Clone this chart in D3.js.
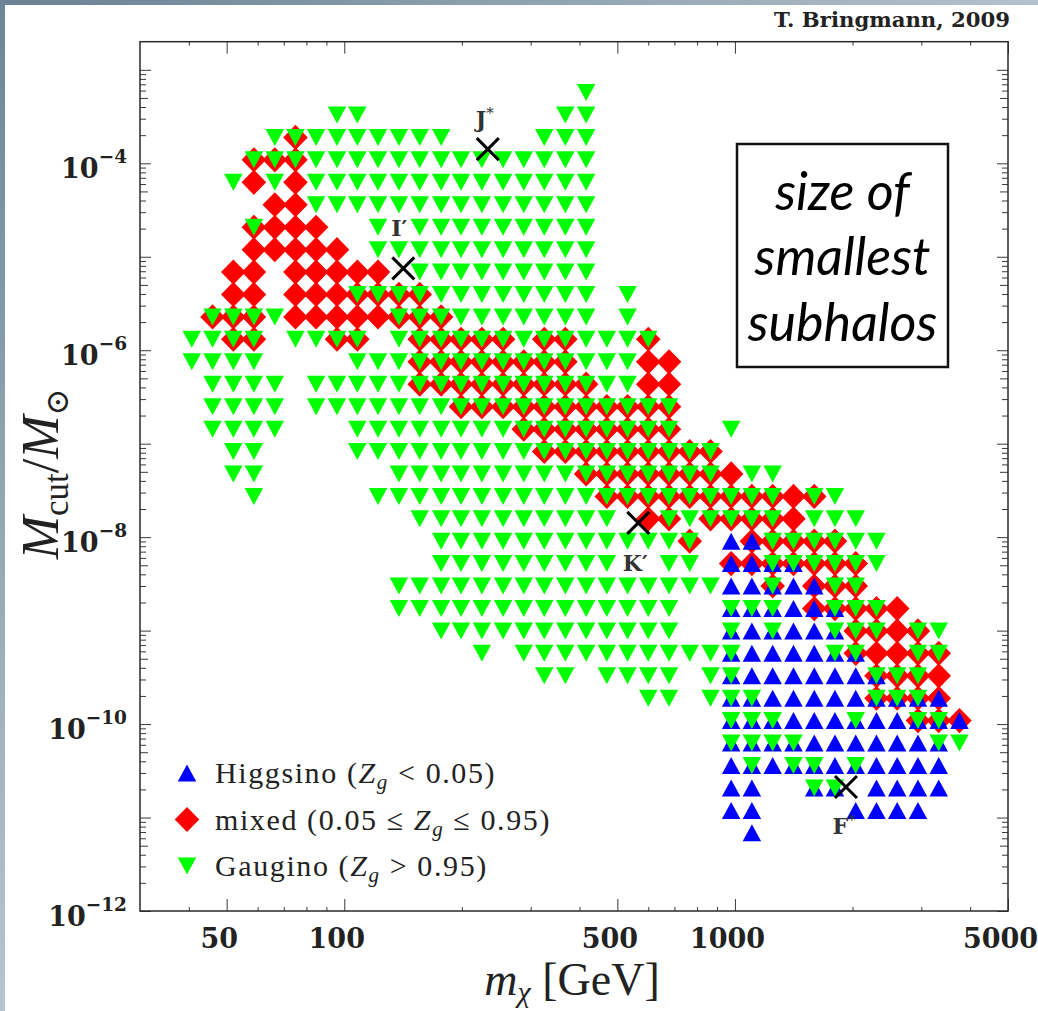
<!DOCTYPE html>
<html>
<head>
<meta charset="utf-8">
<script src="https://cdn.jsdelivr.net/npm/d3@7"></script>
<style>
  body { margin: 0; background: #fff; }
  svg { display: block; }
</style>
</head>
<body>
<svg id="chart" width="1038" height="1011"></svg>
<script>
// Neutralino mass of each scan column (GeV)
const massBins = [40.7, 46.0, 52.0, 58.7, 66.4, 75.0, 84.7, 95.8, 108, 122,
                  138, 156, 177, 199, 225, 255, 288, 325, 368, 416,
                  470, 531, 600, 678, 766, 866, 978, 1105, 1249, 1412,
                  1596, 1803, 2038, 2303, 2602, 2941, 3324, 3756];

// Cutoff mass of each scan row, top to bottom (solar masses)
const mcutBins = [5.71e-4, 3.28e-4, 1.89e-4, 1.09e-4, 6.26e-5, 3.60e-5, 2.07e-5, 1.19e-5,
                  6.86e-6, 3.95e-6, 2.27e-6, 1.31e-6, 7.52e-7, 4.33e-7, 2.49e-7, 1.43e-7,
                  8.25e-8, 4.75e-8, 2.73e-8, 1.57e-8, 9.05e-9, 5.21e-9, 3.00e-9, 1.72e-9,
                  9.92e-10, 5.71e-10, 3.28e-10, 1.89e-10, 1.09e-10, 6.26e-11, 3.60e-11,
                  2.07e-11, 1.19e-11, 6.86e-12];

// Occupied cells per class: one string per row, '#' = model present in that mass column
const gauginoGrid = [
  ".......... .........# .......... ........",
  ".......##. ........## .......... ........",
  "....###### ###....### .......... ........",
  "...####### ########## .......... ........",
  "..#.#.#### ########## .......... ........",
  "......#### ########## .......... ........",
  "...#.....# .######### .......... ........",
  ".........# ########## .......... ........",
  ".......... .######### .......... ........",
  "........## ########## .#........ ........",
  ".####..... ########## .#........ ........",
  "####.####. ########## ###....... ........",
  "####....## ########## ##........ ........",
  ".####.#### ########## ##........ ........",
  ".####.#### ########## ####...... ........",
  ".####...## ########## ####..#... ........",
  "..##....## ########## ######.... ........",
  "..##...... ########## ######.##. ........",
  "...#.....# ########## #########. ##......",
  ".......... .######### #..######. ###.....",
  ".......... ..######## #####...## ####....",
  ".......... ..######## #..##...## ####....",
  ".......... ########## ######..#. .##.....",
  ".......... ########## ####..###. .###....",
  ".......... ..######## ####..#.#. .###.##.",
  ".......... ....#.#### #######... .##..##.",
  ".......... .......##. ####.##... ...###..",
  ".......... .......... ..##.###.. ...###..",
  ".......... .......... ......###. ..#..##.",
  ".......... .......... ......#### ......##",
  ".......... .......... .......#.# #.#.....",
  ".......... .......... .......... ##......",
  "",
  ""
];

const mixedGrid = [
  "",
  "",
  ".....#.... .......... .......... ........",
  "...###.... .......... .......... ........",
  "...#.#.... .......... .......... ........",
  "....##.... .......... .......... ........",
  "...####... .......... .......... ........",
  "...#####.. .......... .......... ........",
  "..##.##### .......... .......... ........",
  "..##.##### ##........ .......... ........",
  ".###.##### ###....... .......... ........",
  "..##...##. .#####.##. ..#....... ........",
  ".......... .########. ..##...... ........",
  ".......... .######### ..##...... ........",
  ".......... ...####### ####...... ........",
  ".......... ......#### ####...... ........",
  ".......... .......### ######.... ........",
  ".......... .........# #######... ........",
  ".......... .......... ########## #.......",
  ".......... .......... ..##.##### ........",
  ".......... .......... ....#..### ##......",
  ".......... .......... ......#### ###.....",
  ".......... .......... ........#. ###.....",
  ".......... .......... .......... #####...",
  ".......... .......... .......... ..####..",
  ".......... .......... .......... ..#####.",
  ".......... .......... .......... ...####.",
  ".......... .......... .......... ...####.",
  ".......... .......... .......... .....###",
  "", "", "", "", ""
];

const higgsinoGrid = [
  "", "", "", "", "", "", "", "", "", "", "", "", "", "", "", "", "", "", "", "",
  ".......... .......... ......##.. ........",
  ".......... .......... ......#### ........",
  ".......... .......... ......#### #.......",
  ".......... .......... ......#### ##......",
  ".......... .......... ......#### ##......",
  ".......... .......... ......#### ###.....",
  ".......... .......... ......#### ####....",
  ".......... .......... ......#### #######.",
  ".......... .......... ......#### ########",
  ".......... .......... ......#### #######.",
  ".......... .......... ......#### #######.",
  ".......... .......... ......##.. ##.####.",
  ".......... .......... ......##.. ..####..",
  ".......... .......... .......#.. ........"
];

// Benchmark models marked with a cross
const benchNames = ["J*", "I′", "K′", "F*"];
const benchMass = [233, 141.6, 565.6, 1924];
const benchMcut = [1.42e-4, 7.52e-6, 1.42e-8, 2.12e-11];

// Axis ticks
const xMajor = [50, 100, 500, 1000, 5000];
const xMinor = [40, 60, 70, 80, 90, 200, 300, 400, 600, 700, 800, 900, 2000, 3000, 4000];
const yLabelExp = [-12, -10, -8, -6, -4];
const yDecadeExp = [-12, -11, -10, -9, -8, -7, -6, -5, -4, -3];

// ---------------------------------------------------------------------------
const W = 1038, H = 1011;
const plot = { left: 140, right: 1008, top: 41.7, bottom: 911 };
const serifBold = "'DejaVu Serif', serif";
const serif = "'Liberation Serif', 'Times New Roman', serif";
const tickColor = "#3a3a3a";

const x = d3.scaleLog().domain([30, 5000]).range([plot.left, plot.right]);
const y = d3.scaleLog().domain([1e-12, 2e-3]).range([plot.bottom, plot.top]);

const svg = d3.select("#chart");
svg.append("rect").attr("width", W).attr("height", H).attr("fill", "#fff");

// window edge strips
const defs = svg.append("defs");
const gTop = defs.append("linearGradient").attr("id", "edgeTop");
gTop.append("stop").attr("offset", 0).attr("stop-color", "#6a8293");
gTop.append("stop").attr("offset", 1).attr("stop-color", "#b3c2cc");
const gLeft = defs.append("linearGradient").attr("id", "edgeLeft")
  .attr("x1", 0).attr("y1", 0).attr("x2", 0).attr("y2", 1);
gLeft.append("stop").attr("offset", 0).attr("stop-color", "#6e8697");
gLeft.append("stop").attr("offset", 1).attr("stop-color", "#b7c5cf");
svg.append("rect").attr("x", 0).attr("y", 0).attr("width", W).attr("height", 5).attr("fill", "url(#edgeTop)");
svg.append("rect").attr("x", 0).attr("y", 0).attr("width", 5).attr("height", H).attr("fill", "url(#edgeLeft)");

// ---- marker geometry ----
const triDown = (w, h) => `M${-w / 2},${-h / 2}L${w / 2},${-h / 2}L0,${h / 2}Z`;
const triUp = (w, h) => `M${-w / 2},${h / 2}L${w / 2},${h / 2}L0,${-h / 2}Z`;
const diamond = (w, h) => `M0,${-h / 2}L${w / 2},0L0,${h / 2}L${-w / 2},0Z`;

function cells(grid) {
  const pts = [];
  grid.forEach((row, r) => {
    row.replace(/ /g, "").split("").forEach((ch, c) => {
      if (ch === "#") pts.push({ m: massBins[c], mcut: mcutBins[r] });
    });
  });
  return pts;
}

const series = [
  { key: "mixed", pts: cells(mixedGrid), shape: diamond(24.6, 25.2), color: "#ff0000" },
  { key: "higgsino", pts: cells(higgsinoGrid), shape: triUp(18.5, 17), color: "#0000ff" },
  { key: "gaugino", pts: cells(gauginoGrid), shape: triDown(18.5, 17), color: "#00ff00" }
];

const marks = svg.append("g").attr("class", "marks");
series.forEach(s => {
  marks.append("g").attr("class", s.key)
    .selectAll("path").data(s.pts).join("path")
    .attr("d", s.shape)
    .attr("transform", d => `translate(${x(d.m)},${y(d.mcut)})`)
    .attr("fill", s.color);
});

// ---- benchmark crosses and labels ----
const benchLabelOffset = { "J*": [-3, -22], "I′": [-4, -32], "K′": [-3, 48], "F*": [-2, 47] };
const bench = benchNames.map((n, i) => ({ name: n, m: benchMass[i], mcut: benchMcut[i] }));
const bg = svg.append("g").attr("class", "bench");
const cs = 11;
bench.forEach(b => {
  const cx = x(b.m), cy = y(b.mcut);
  bg.append("path")
    .attr("d", `M${cx - cs},${cy - cs}L${cx + cs},${cy + cs}M${cx - cs},${cy + cs}L${cx + cs},${cy - cs}`)
    .attr("stroke", "#000").attr("stroke-width", 3).attr("fill", "none");
  const off = benchLabelOffset[b.name];
  const t = bg.append("text")
    .attr("x", cx + off[0]).attr("y", cy + off[1])
    .attr("text-anchor", "middle")
    .attr("font-family", serifBold).attr("font-weight", "bold")
    .attr("font-size", 22).attr("fill", "#333");
  t.append("tspan").text(b.name[0]);
  if (b.name[1] === "*") {
    t.append("tspan").attr("font-size", 15).attr("dy", -9).attr("font-weight", "normal").text("*");
  } else {
    t.append("tspan").text(b.name.slice(1));
  }
});

// ---- frame and ticks ----
function tickSet(axisFn, scale, values, len, transform) {
  const g = svg.append("g").attr("transform", transform)
    .call(axisFn(scale).tickValues(values).tickSize(-len).tickFormat(""));
  g.select(".domain").remove();
  g.selectAll("line").attr("stroke", tickColor).attr("stroke-width", 1);
  return g;
}

const yMajorVals = yDecadeExp.map(e => Math.pow(10, e));
const yMinor5 = yDecadeExp.map(e => 5 * Math.pow(10, e)).filter(v => v < 2e-3);
const yMinorOther = [];
yDecadeExp.forEach(e => [2, 3, 4, 6, 7, 8, 9].forEach(k => {
  const v = k * Math.pow(10, e);
  if (v < 1.99e-3) yMinorOther.push(v);
}));

// bottom / top
tickSet(d3.axisBottom, x, xMajor, 12, `translate(0,${plot.bottom})`);
tickSet(d3.axisBottom, x, xMinor, 4, `translate(0,${plot.bottom})`);
tickSet(d3.axisTop, x, xMajor, 12, `translate(0,${plot.top})`);
tickSet(d3.axisTop, x, xMinor, 4, `translate(0,${plot.top})`);
// left / right
[[d3.axisLeft, plot.left], [d3.axisRight, plot.right]].forEach(([fn, px]) => {
  tickSet(fn, y, yMajorVals, 11, `translate(${px},0)`);
  tickSet(fn, y, yMinor5, 8, `translate(${px},0)`);
  tickSet(fn, y, yMinorOther, 6, `translate(${px},0)`);
});

svg.append("rect")
  .attr("x", plot.left).attr("y", plot.top)
  .attr("width", plot.right - plot.left).attr("height", plot.bottom - plot.top)
  .attr("fill", "none").attr("stroke", "#2a2a2a").attr("stroke-width", 1.5);

// x tick labels
const xl = svg.append("g").attr("transform", `translate(0,${plot.bottom})`)
  .call(d3.axisBottom(x).tickValues(xMajor).tickSize(0).tickPadding(18).tickFormat(d3.format("d")));
xl.select(".domain").remove();
xl.selectAll("text")
  .attr("dx", -8)
  .attr("font-family", serifBold).attr("font-weight", "bold")
  .attr("font-size", 27).attr("fill", "#222");

// y tick labels: 10^n
const yl = svg.append("g");
yLabelExp.forEach(e => {
  const t = yl.append("text")
    .attr("x", 127).attr("y", y(Math.pow(10, e)) + 14.5)
    .attr("text-anchor", "end")
    .attr("font-family", serifBold).attr("font-weight", "bold")
    .attr("font-size", 27).attr("fill", "#222");
  t.append("tspan").text("10");
  t.append("tspan").attr("font-size", 18.5).attr("dy", -15).text("−" + Math.abs(e));
});

// axis titles
const xt = svg.append("text")
  .attr("x", 572).attr("y", 995).attr("text-anchor", "middle")
  .attr("font-family", serif).attr("font-size", 46).attr("fill", "#222");
xt.append("tspan").attr("font-style", "italic").text("m");
xt.append("tspan").attr("font-style", "italic").attr("font-size", 30).attr("dy", 7).text("χ");
xt.append("tspan").attr("dy", -7).text(" [GeV]");

const yt = svg.append("text")
  .attr("transform", "translate(58,474) rotate(-90)")
  .attr("text-anchor", "middle")
  .attr("font-family", serif).attr("font-size", 52).attr("fill", "#222");
yt.append("tspan").attr("font-style", "italic").text("M");
yt.append("tspan").attr("font-size", 35).attr("dy", 10).text("cut");
yt.append("tspan").attr("dy", -10).text("/");
yt.append("tspan").attr("font-style", "italic").text("M");
yt.append("tspan").attr("font-size", 32).attr("dy", 10)
  .attr("font-family", "'DejaVu Serif', serif").text("⊙");

// credit line
svg.append("text")
  .attr("x", 1010).attr("y", 27).attr("text-anchor", "end")
  .attr("font-family", serifBold).attr("font-weight", "bold")
  .attr("font-size", 20).attr("fill", "#222")
  .attr("textLength", 236).attr("lengthAdjust", "spacingAndGlyphs")
  .text("T. Bringmann, 2009");

// ---- legend ----
const legendItems = [
  { shape: triUp(18.5, 17), color: "#0000ff",
    parts: [["Higgsino ("], ["Z", "i"], ["g", "s"], [" < 0.05)"]] },
  { shape: diamond(24.6, 25.2), color: "#ff0000",
    parts: [["mixed (0.05 ≤ "], ["Z", "i"], ["g", "s"], [" ≤ 0.95)"]] },
  { shape: triDown(18.5, 17), color: "#00ff00",
    parts: [["Gaugino ("], ["Z", "i"], ["g", "s"], [" > 0.95)"]] }
];
const lg = svg.append("g").attr("class", "legend");
legendItems.forEach((it, i) => {
  const cy = 773 + i * 46.5;
  lg.append("path").attr("d", it.shape).attr("fill", it.color)
    .attr("transform", `translate(187,${cy})`);
  const t = lg.append("text").attr("x", 215).attr("y", cy + 10)
    .attr("font-family", serif).attr("font-size", 30).attr("fill", "#222")
    .attr("letter-spacing", 1.6);
  let lowered = false;
  it.parts.forEach(([txt, style]) => {
    const sp = t.append("tspan").text(txt);
    if (style === "i") sp.attr("font-style", "italic");
    if (style === "s") { sp.attr("font-style", "italic").attr("font-size", 21).attr("dy", 6); lowered = true; }
    else if (lowered) { sp.attr("dy", -6); lowered = false; }
  });
});

// ---- annotation box ----
const box = svg.append("g").attr("class", "note");
box.append("rect").attr("x", 737).attr("y", 144).attr("width", 211).attr("height", 223)
  .attr("fill", "#fff").attr("stroke", "#111").attr("stroke-width", 2.5);
[["size of", 210], ["smallest", 275], ["subhalos", 341]].forEach(([txt, by]) => {
  box.append("text").attr("x", 842.5).attr("y", by).attr("text-anchor", "middle")
    .attr("font-family", "Lato, 'Open Sans', sans-serif").attr("font-style", "italic")
    .attr("font-size", 52).attr("fill", "#000").text(txt);
});
</script>
</body>
</html>
